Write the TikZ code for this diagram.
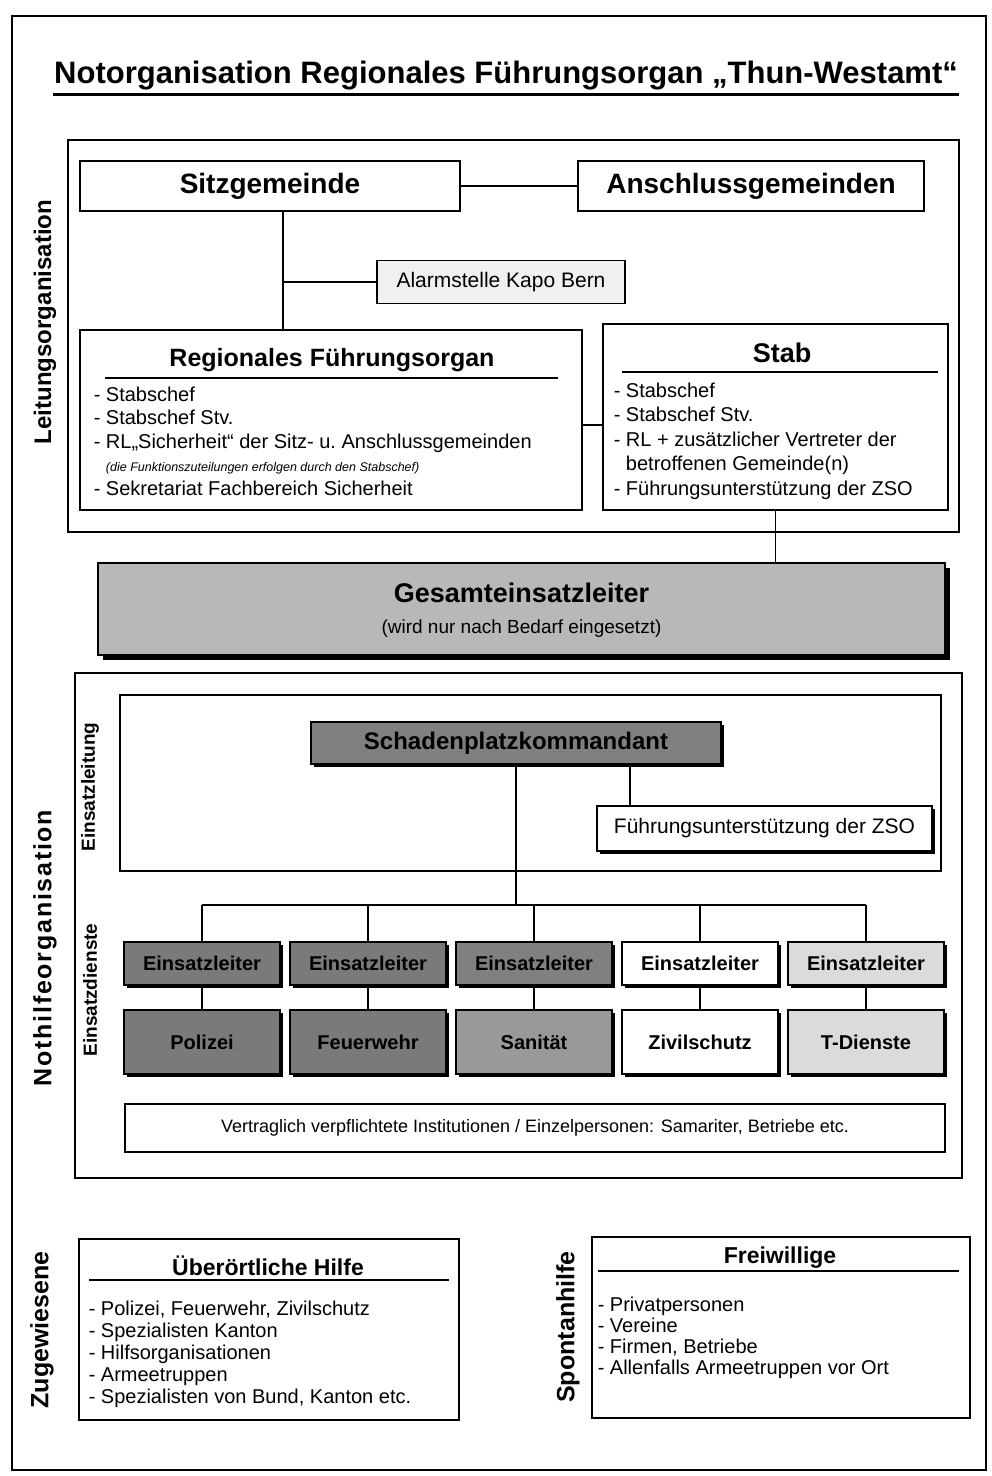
\documentclass[tikz,border=0pt]{standalone}
\usepackage{fontspec}
\setmainfont{Liberation Sans}
\usetikzlibrary{shadows}

\tikzset{
  box/.style={draw, inner sep=0pt, align=center},
  shade/.style={drop shadow={shadow xshift=2.5pt, shadow yshift=-2.5pt, fill=black, opacity=1}},
  heavyshade/.style={drop shadow={shadow xshift=5pt, shadow yshift=-5pt, fill=black, opacity=1}},
  listtxt/.style={anchor=north west, inner sep=0pt, align=left},
  sidelabel/.style={rotate=90, inner sep=0pt, font=\fontsize{24}{28}\selectfont\bfseries},
  elbox/.style={box, shade, minimum width=156pt, font=\fontsize{20}{24}\selectfont\bfseries},
}

\begin{document}
\begin{tikzpicture}[x=1pt, y=-1pt, line width=1.5pt]
  \useasboundingbox (0,0) rectangle (992,1476);
  % page frame
  \draw[line width=2pt] (12,16) rectangle (986,1470);
  % title
  \node[inner sep=0pt, font=\fontsize{31}{36}\selectfont\bfseries] (title) at (506,76) {Notorganisation Regionales Führungsorgan „Thun-Westamt“};
  \draw[line width=2.5pt] ([yshift=-3pt]title.south west) -- ([yshift=-3pt]title.south east);

  % Leitungsorganisation
  \node[box, minimum width=891pt, minimum height=392pt] (leitung) at (513.5,336) {};
  \node[sidelabel] (leitlabel) at (45,322) {Leitungsorganisation};
  \node[box, minimum width=380pt, minimum height=50pt, font=\fontsize{28}{32}\selectfont\bfseries] (sitz) at (270,186) {Sitzgemeinde};
  \node[box, minimum width=346pt, minimum height=50pt, font=\fontsize{28}{32}\selectfont\bfseries] (anschluss) at (751,186) {Anschlussgemeinden};
  \draw (sitz) -- (anschluss);
  \node[box, fill=black!6, minimum width=248pt, minimum height=43pt, font=\fontsize{21}{25}\selectfont] (alarm) at (501,282) {Alarmstelle Kapo Bern};
  \node[box, minimum width=502pt, minimum height=180pt] (rfo) at (331,420) {};
  \node[box, minimum width=345pt, minimum height=186pt] (stab) at (775.5,417) {};
  \coordinate (sitzdrop) at ([xshift=13pt]sitz.south);
  \draw (sitzdrop) -- (sitzdrop |- rfo.north);
  \draw (alarm.west) -- (alarm.west -| sitzdrop);
  \draw ([yshift=-5pt]rfo.east) -- ([yshift=-5pt]rfo.east -| stab.west);

  % Regionales Fuehrungsorgan
  \node[font=\fontsize{25}{30}\selectfont\bfseries] (rfotitle) at (332,360) {Regionales Führungsorgan};
  \draw[line width=1.2pt] (105,378) -- (558,378);
  \node[listtxt, font=\fontsize{20}{23.5}\selectfont] (rfolist) at (93,386) {- Stabschef\\- Stabschef Stv.\\- RL„Sicherheit“ der Sitz- u.\ Anschlussgemeinden\\\hphantom{- }{\fontsize{12.5}{14}\selectfont\itshape (die Funktionszuteilungen erfolgen durch den Stabschef)}\\- Sekretariat Fachbereich Sicherheit};

  % Stab
  \node[font=\fontsize{27}{30}\selectfont\bfseries] (stabtitle) at (782,353) {Stab};
  \draw[line width=1.2pt] (622,372) -- (938,372);
  \node[listtxt, font=\fontsize{20}{24.5}\selectfont] (stablist) at (613,382) {- Stabschef\\- Stabschef Stv.\\- RL + zusätzlicher Vertreter der\\\hphantom{- }betroffenen Gemeinde(n)\\- Führungsunterstützung der ZSO};

  % Gesamteinsatzleiter
  \node[box, fill=black!28, heavyshade, minimum width=847pt, minimum height=92pt] (gesamt) at (521.5,609) {};
  \node[font=\fontsize{27}{30}\selectfont\bfseries] (gesamttxt) at (gesamt.center) [yshift=16pt] {Gesamteinsatzleiter};
  \node[font=\fontsize{19}{22}\selectfont] (gesamtsub) at (gesamt.center) [yshift=-20pt] {(wird nur nach Bedarf eingesetzt)};
  \draw (stab.south) -- (stab.south |- gesamt.north);

  % Nothilfeorganisation
  \node[box, minimum width=887pt, minimum height=505pt] (nothilfe) at (518.5,925.5) {};
  \node[sidelabel, font=\fontsize{25}{28}\selectfont\bfseries\addfontfeatures{LetterSpace=7}] (nothlabel) at (45,948) {Nothilfeorganisation};
  \node[box, minimum width=821pt, minimum height=176pt] (einsatzleitung) at (530.5,783) {};
  \node[sidelabel, font=\fontsize{19}{22}\selectfont\bfseries] (leitunglabel) at (90,787) {Einsatzleitung};
  \node[sidelabel, font=\fontsize{19}{22}\selectfont\bfseries] (dienstelabel) at (90,990) {Einsatzdienste};
  \node[box, fill=black!50, shade, minimum width=410pt, minimum height=42pt, font=\fontsize{24}{28}\selectfont\bfseries] (spk) at (516,743) {Schadenplatzkommandant};
  \node[box, fill=white, shade, minimum width=335pt, minimum height=45pt, font=\fontsize{21}{25}\selectfont] (fu) at (764.5,828.5) {Führungsunterstützung der ZSO};
  \coordinate (fudrop) at ([xshift=114pt]spk.south);
  \draw (fudrop) -- (fudrop |- fu.north);

  % Einsatzdienste
  \coordinate (bus) at (0,905);
  \foreach \i/\x/\lcol/\col/\txt in {1/202/black!52/black!52/Polizei, 2/368/black!52/black!52/Feuerwehr, 3/534/black!50/black!40/Sanität, 4/700/white/white/Zivilschutz, 5/866/black!14/black!14/T-Dienste} {
    \node[elbox, fill=\lcol, minimum height=43pt] (el\i) at (\x,963.5) {Einsatzleiter};
    \node[elbox, fill=\col, minimum height=64pt] (svc\i) at (\x,1042) {\txt};
    \draw (el\i.north) -- (el\i.north |- bus);
    \draw (el\i.south) -- (svc\i.north);
  }
  \draw (el1.north |- bus) -- (el5.north |- bus);
  \draw (spk.south) -- (spk.south |- bus);
  \node[box, minimum width=820pt, minimum height=48pt, font=\fontsize{18}{22}\selectfont] (vertrag) at (535,1128) {Vertraglich verpflichtete Institutionen / Einzelpersonen: Samariter, Betriebe etc.};

  % Zugewiesene / Spontanhilfe
  \node[sidelabel, font=\fontsize{25}{28}\selectfont\bfseries] (zuglabel) at (42,1330) {Zugewiesene};
  \node[box, minimum width=380pt, minimum height=181pt] (ueber) at (269,1329.5) {};
  \node[font=\fontsize{23}{27}\selectfont\bfseries] (uebertitle) at (268,1266) {Überörtliche Hilfe};
  \draw[line width=1.2pt] (89,1280) -- (449,1280);
  \node[listtxt, font=\fontsize{20}{22}\selectfont] (ueberlist) at (88,1300) {- Polizei, Feuerwehr, Zivilschutz\\- Spezialisten Kanton\\- Hilfsorganisationen\\- Armeetruppen\\- Spezialisten von Bund, Kanton etc.};

  \node[sidelabel, font=\fontsize{25}{28}\selectfont\bfseries] (spontlabel) at (568,1327) {Spontanhilfe};
  \node[box, minimum width=378pt, minimum height=181pt] (frei) at (781,1327.5) {};
  \node[font=\fontsize{23}{27}\selectfont\bfseries] (freititle) at (780,1258) {Freiwillige};
  \draw[line width=1.2pt] (598,1271) -- (959,1271);
  \node[listtxt, font=\fontsize{20}{21}\selectfont] (freilist) at (597,1296) {- Privatpersonen\\- Vereine\\- Firmen, Betriebe\\- Allenfalls Armeetruppen vor Ort};
\end{tikzpicture}
\end{document}
